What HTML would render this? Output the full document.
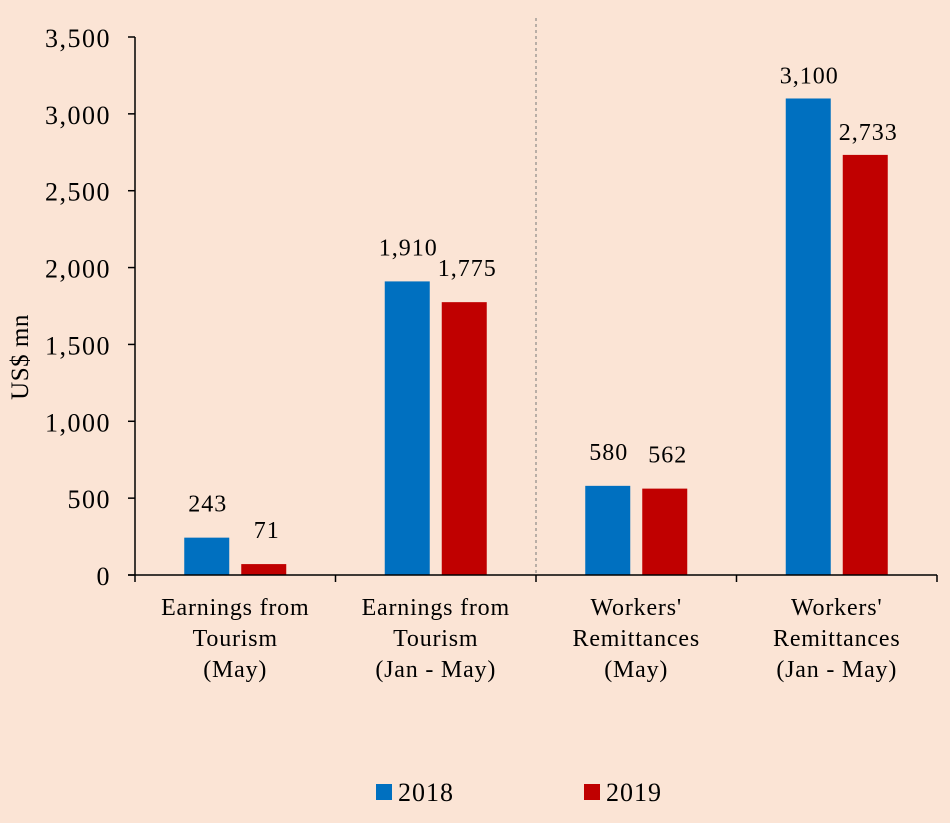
<!DOCTYPE html>
<html><head><meta charset="utf-8"><style>
body{margin:0;background:#FBE4D5;}
svg{display:block;font-family:"Liberation Serif","Palatino Linotype",serif;}
</style></head><body>
<svg id="chart" width="950" height="823" viewBox="0 0 950 823" xmlns="http://www.w3.org/2000/svg">
<rect width="950" height="823" fill="#FBE4D5"/>
<g id="grid"></g>
<g id="bars"></g>
<g id="axes"></g>
<text transform="translate(28,357) rotate(-90)" text-anchor="middle" font-size="25" letter-spacing="0.5" fill="#000">US$ mn</text>
<g>
<rect x="376" y="784" width="16" height="16" fill="#0070C0"/>
<text x="398" y="801" font-size="26" letter-spacing="1">2018</text>
<rect x="584" y="784" width="16" height="16" fill="#C00000"/>
<text x="606" y="801" font-size="26" letter-spacing="1">2019</text>
</g>
</svg>
<script>
const categories=[["Earnings from","Tourism","(May)"],["Earnings from","Tourism","(Jan - May)"],["Workers'","Remittances","(May)"],["Workers'","Remittances","(Jan - May)"]];
const values2018=[243,1910,580,3100];
const values2019=[71,1775,562,2733];
const yTicks=[0,500,1000,1500,2000,2500,3000,3500];
const yTickLabels=["0","500","1,000","1,500","2,000","2,500","3,000","3,500"];

const NS="http://www.w3.org/2000/svg";
const x0=135,x1=937,yBase=575,yTop=37,yMax=3500;
const y=v=>yBase-(v/yMax)*(yBase-yTop);
const band=(x1-x0)/categories.length;
const xc=i=>x0+band*(i+0.5);
const fmt=v=>v.toLocaleString("en-US");
function mk(tag,attrs,parent){const e=document.createElementNS(NS,tag);for(const k in attrs)e.setAttribute(k,attrs[k]);parent.appendChild(e);return e;}
const bars=document.getElementById("bars"),axes=document.getElementById("axes"),grid=document.getElementById("grid");

const sep=mk("line",{x1:536,x2:536,y1:18,y2:yBase,stroke:"#777","stroke-width":1,"stroke-dasharray":"3,3"},grid);



const bw=45,gap=12;
[values2018,values2019].forEach((series,s)=>{
  series.forEach((v,i)=>{
    const bx=s===0?xc(i)-gap/2-bw:xc(i)+gap/2;
    const r=mk("rect",{x:bx,y:y(v),width:bw,height:yBase-y(v),fill:s===0?"#0070C0":"#C00000"},bars);
    
    
    const off=v>2500?15:26;
    const t=mk("text",{x:bx+bw/2+(s===0?1:3),y:y(v)-off,"text-anchor":"middle","font-size":24,"letter-spacing":"1"},bars);
    t.textContent=fmt(v);
    
    
  });
});

const ya=mk("line",{x1:x0,x2:x0,y1:yTop,y2:yBase,stroke:"#000","stroke-width":1.5},axes);


const xa=mk("line",{x1:x0-7,x2:x1,y1:yBase,y2:yBase,stroke:"#000","stroke-width":1.5},axes);


yTicks.forEach((v,i)=>{
  const l=mk("line",{x1:x0-7,x2:x0,y1:y(v),y2:y(v),stroke:"#000","stroke-width":1.5},axes);
  
  
  const t=mk("text",{x:x0-24,y:y(v)+10,"text-anchor":"end","font-size":26,"letter-spacing":"1.5"},axes);
  t.textContent=yTickLabels[i];
  
  
});
for(let i=0;i<=categories.length;i++){
  const l=mk("line",{x1:x0+band*i,x2:x0+band*i,y1:yBase,y2:yBase+7,stroke:"#000","stroke-width":1.5},axes);
  
  
}
categories.forEach((lines,i)=>{
  const t=mk("text",{x:xc(i),"text-anchor":"middle","font-size":24,"letter-spacing":"0.8"},axes);
  
  
  lines.forEach((ln,j)=>{const ts=mk("tspan",{x:xc(i),y:615+j*31},t);ts.textContent=ln;});
});
</script>
</body></html>
